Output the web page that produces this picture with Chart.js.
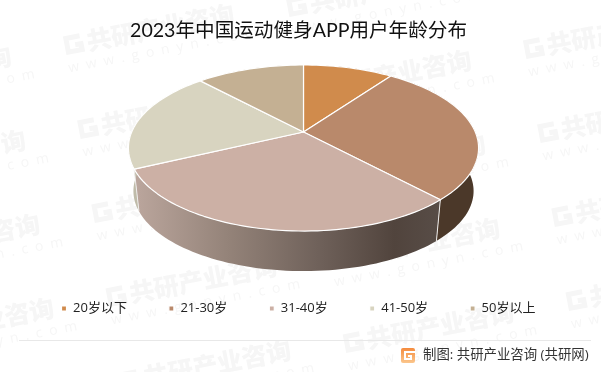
<!DOCTYPE html>
<html>
<head>
<meta charset="utf-8">
<style>
  html, body { margin: 0; padding: 0; background: #fff; }
  canvas { display: block; }
</style>
<script src="https://cdn.jsdelivr.net/npm/chart.js@4/dist/chart.umd.js"></script>
</head>
<body>
<canvas id="age_chart" width="601" height="372"></canvas>
<script>
var titleText = "2023年中国运动健身APP用户年龄分布";
var footerText = "制图: 共研产业咨询 (共研网)";
var watermarkName = "共研产业咨询";
var watermarkSite = "www.gonyn.com";

var ageLabels = ["20岁以下", "21-30岁", "31-40岁", "41-50岁", "50岁以上"];
var agePercent = [10, 28, 30, 20, 12];
var sliceColors = ["#d08b4c", "#b9896b", "#ccb0a5", "#d8d4c0", "#c4b093"];

var cjk = '"Noto Sans CJK SC"';

// perspective of the pie: top face and bottom rim, same vanishing term
var persp = -0.1928;
var topFace = { x: 303.5, y: 132, a: 171.8, b: 54.5 };
var bottomFace = { x: 303.5, y: 175.6, a: 166.9, b: 43.2 };

function project(face, angle) {
    var u = Math.cos(angle), v = Math.sin(angle);
    var d = 1 + persp * v;
    return { x: face.x + face.a * u / d, y: (face.y + face.b * v) / d };
}

function arcSteps(arc) {
    var out = [];
    var n = Math.max(2, Math.ceil((arc.endAngle - arc.startAngle) / 0.03));
    for (var i = 0; i <= n; i++) {
        out.push(arc.startAngle + (arc.endAngle - arc.startAngle) * i / n);
    }
    return out;
}

function wallFill(ctx, i) {
    var g;
    if (i == 2) {
        g = ctx.createLinearGradient(137, 0, 440, 0);
        g.addColorStop(0, "#baa59c");
        g.addColorStop(0.3, "#948379");
        g.addColorStop(0.6, "#6f615a");
        g.addColorStop(0.85, "#51443d");
        g.addColorStop(1, "#584d47");
        return g;
    }
    if (i == 1 || i == 0) return "#4b3829";
    return "#bfbba9";
}

var pie3d = {
    id: "pie3d",
    beforeDraw: function(chart) {
        var ctx = chart.ctx;
        ctx.save();
        ctx.fillStyle = "#fff";
        ctx.fillRect(0, 0, 601, 372);
        // faint watermark grid
        var cols = [[-163, 2], [74, 44], [297, 6], [534, 48]];
        cols.forEach(function(c) {
            for (var r = 0; r < 5; r++) {
                ctx.save();
                ctx.translate(c[0] + 14.2 * r, c[1] + 84 * r);
                ctx.rotate(-0.19);
                ctx.fillStyle = "#f6f6f6";
                ctx.strokeStyle = "#f6f6f6";
                ctx.textBaseline = "middle";
                // blocky G mark
                ctx.lineWidth = 5;
                ctx.beginPath();
                ctx.moveTo(7, -7);
                ctx.lineTo(-7, -7);
                ctx.lineTo(-7, 7);
                ctx.lineTo(7, 7);
                ctx.lineTo(7, 1);
                ctx.lineTo(1, 1);
                ctx.stroke();
                ctx.font = "900 25px " + cjk;
                ctx.fillText(watermarkName, 13, 0);
                ctx.font = "14px 'Open Sans'";
                ctx.letterSpacing = "7px";
                ctx.fillText(watermarkSite, -10, 23);
                ctx.restore();
            }
        });
        ctx.restore();
    },
    beforeDatasetsDraw: function(chart) {
        var ctx = chart.ctx;
        var arcs = chart.getDatasetMeta(0).data;
        ctx.save();
        // side wall first, the top face then covers its back part
        arcs.forEach(function(arc, i) {
            var steps = arcSteps(arc);
            ctx.beginPath();
            steps.forEach(function(t) {
                var p = project(topFace, t);
                ctx.lineTo(p.x, p.y);
            });
            steps.slice().reverse().forEach(function(t) {
                var p = project(bottomFace, t);
                ctx.lineTo(p.x, p.y);
            });
            ctx.closePath();
            ctx.fillStyle = wallFill(ctx, i);
            ctx.fill();
        });
        arcs.forEach(function(arc) {
            var a = project(topFace, arc.startAngle);
            var b = project(bottomFace, arc.startAngle);
            ctx.beginPath();
            ctx.moveTo(a.x, a.y);
            ctx.lineTo(b.x, b.y);
            ctx.strokeStyle = "#eeecea";
            ctx.lineWidth = 1;
            ctx.stroke();
        });
        arcs.forEach(function(arc) {
            ctx.beginPath();
            ctx.moveTo(topFace.x, topFace.y);
            arcSteps(arc).forEach(function(t) {
                var p = project(topFace, t);
                ctx.lineTo(p.x, p.y);
            });
            ctx.closePath();
            ctx.fillStyle = arc.options.backgroundColor;
            ctx.fill();
            ctx.strokeStyle = arc.options.borderColor;
            ctx.lineWidth = arc.options.borderWidth;
            ctx.lineJoin = "round";
            ctx.stroke();
        });
        ctx.restore();
        return false;
    },
    afterDraw: function(chart) {
        var ctx = chart.ctx;
        ctx.save();
        // footer rule, logo and source line
        ctx.strokeStyle = "#e8e8e8";
        ctx.lineWidth = 1;
        ctx.beginPath();
        ctx.moveTo(19, 340.5);
        ctx.lineTo(591, 340.5);
        ctx.stroke();

        var g = ctx.createLinearGradient(0, 348, 0, 363);
        g.addColorStop(0, "#f58b3d");
        g.addColorStop(1, "#fbc68c");
        ctx.fillStyle = g;
        ctx.beginPath();
        ctx.roundRect(401, 348, 14, 15, 2);
        ctx.fill();
        ctx.fillStyle = "#fff";
        ctx.fillRect(404, 351, 11, 2);
        ctx.fillRect(404, 351, 2, 9);
        ctx.fillRect(404, 358, 8, 2);
        ctx.fillRect(408, 355, 4, 2);
        ctx.fillRect(410, 355, 2, 5);

        ctx.fillStyle = "#333";
        ctx.textBaseline = "middle";
        ctx.font = "13.4px 'Open Sans', " + cjk;
        ctx.fillText(footerText, 423, 355);
        ctx.restore();
    }
};

var ctxAge = document.getElementById("age_chart").getContext("2d");

var age_chart = new Chart(ctxAge, {
    type: "pie",
    plugins: [pie3d],
    data: {
        labels: ageLabels,
        datasets: [{
            data: agePercent,
            backgroundColor: sliceColors,
            borderColor: "#ffffff",
            borderWidth: 1.2
        }]
    },
    options: {
        responsive: false,
        animation: false,
        layout: { padding: { top: 10, bottom: 47, left: 0, right: 4 } },
        plugins: {
            tooltip: { enabled: false },
            title: {
                display: true,
                text: titleText,
                color: "#111",
                font: { family: "Lato, " + cjk, size: 19.6, weight: "normal" },
                padding: { top: 9, bottom: 10 }
            },
            legend: {
                position: "bottom",
                labels: {
                    boxWidth: 5,
                    boxHeight: 5,
                    padding: 42,
                    color: "#222",
                    font: { family: "'Open Sans', " + cjk, size: 13 }
                }
            }
        }
    }
});
</script>
</body>
</html>
